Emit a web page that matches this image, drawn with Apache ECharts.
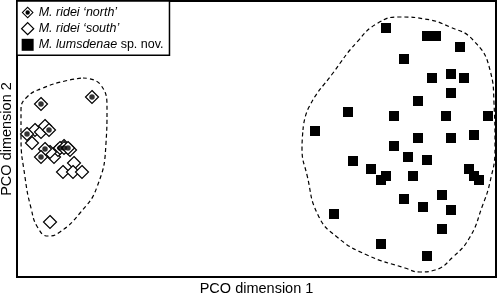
<!DOCTYPE html>
<html><head><meta charset="utf-8">
<script src="https://cdn.jsdelivr.net/npm/echarts@6/dist/echarts.min.js"></script>
<style>html,body{margin:0;padding:0;background:#fff}#c{width:500px;height:298px}</style>
</head><body><div id="c"></div>
<script>
// Series names
var seriesNames = ["M. ridei \u2018north\u2019", "M. ridei \u2018south\u2019", "M. lumsdenae sp. nov."];
var axisTitles = ["PCO dimension 1", "PCO dimension 2"];

// PCO scores (arbitrary units)
var northPts = [[24,173],[75,180],[10,143],[32,147],[28,128],[24,120],[43,129],[47,129],[51,129]];
var southPts = [[18,147],[24,145],[28,151],[15,134],[37,120],[41,127],[47,131],[53,127],[33,125],[57,114],[46,105],[56,105],[65,105],[33,55]];
var lumsPts = [[369,249],[410,241],[419,241],[443,230],[387,218],[415,199],[434,203],[447,199],[434,184],[401,176],
  [331,165],[377,161],[429,161],[471,161],[298,146],[401,139],[434,139],[457,142],[377,131],[391,120],[410,117],
  [336,116],[354,108],[369,101],[364,97],[396,101],[452,108],[457,101],[462,97],[387,78],[406,70],[425,82],
  [434,67],[317,63],[425,48],[364,33],[410,21]];

// Hull outlines drawn around each group
var hullRidei = [[66,199],[83,193],[90,167],[89,134],[80,90],[63,64],[43,45],[31,41],[21,49],[14,69],[8,100],[4,140],[4,167],[10,180],[26,189],[48,196],[66,199]];
var hullLums = [[286,147],[292,170],[316,204],[340,235],[361,254],[383,260],[408,258],[433,250],[456,237],[473,207],[477,174],[478,129],[473,95],[465,70],[453,40],[436,20],[418,7],[403,5],[388,9],[350,22],[320,40],[301,62],[290,102],[285,129],[286,147]];

var FONT = "Liberation Sans, Arial, Helvetica, sans-serif";
var northIcon = 'path://M10,0 L20,10 L10,20 L0,10 Z M10,2.4 L2.4,10 L10,17.6 L17.6,10 Z M10,6.3 A3.7,3.7 0 0 1 10,13.7 A3.7,3.7 0 0 1 10,6.3 Z';

var chart = echarts.init(document.getElementById('c'), null, {renderer: 'canvas'});
chart.setOption({
  animation: false,
  backgroundColor: '#fff',
  grid: {left: 17, top: 1, right: 4, bottom: 21, containLabel: false, outerBoundsMode: 'none',
    show: true, borderColor: '#000', borderWidth: 2, backgroundColor: 'transparent'},
  xAxis: {type: 'value', min: 0, max: 479, axisLine: {show: false}, axisTick: {show: false}, axisLabel: {show: false}, splitLine: {show: false},
    name: axisTitles[0], nameLocation: 'middle', nameGap: 4, nameTextStyle: {fontFamily: FONT, fontSize: 14.5, color: '#000', verticalAlign: 'top'}},
  yAxis: {type: 'value', min: 0, max: 276, axisLine: {show: false}, axisTick: {show: false}, axisLabel: {show: false}, splitLine: {show: false},
    name: axisTitles[1], nameLocation: 'middle', nameGap: 3, nameTextStyle: {fontFamily: FONT, fontSize: 14.5, color: '#000'}},
  legend: {
    orient: 'vertical', left: 17, top: 1, padding: [5, 6, 4, 4], itemGap: 3,
    itemWidth: 12, itemHeight: 12,
    borderColor: '#000', borderWidth: 1.5, backgroundColor: '#fff',
    textStyle: {fontFamily: FONT, fontSize: 12.5, color: '#000',
      rich: {i: {fontFamily: FONT, fontSize: 12.5, fontStyle: 'italic', color: '#000'}, n: {fontFamily: FONT, fontSize: 12.5, color: '#000'}}},
    formatter: function (name) {
      if (name === seriesNames[2]) return '{i|M. lumsdenae}{n| sp. nov.}';
      return '{i|' + name + '}';
    },
    data: [
      {name: seriesNames[0], icon: northIcon, itemStyle: {color: '#000', borderWidth: 0}},
      {name: seriesNames[1], icon: 'diamond', itemStyle: {color: '#fff', borderColor: '#000', borderWidth: 1.3}},
      {name: seriesNames[2], icon: 'rect', itemStyle: {color: '#000', borderWidth: 0}}
    ]
  },
  series: [
    {type: 'line', data: hullRidei, smooth: 0.5, showSymbol: false, silent: true, lineStyle: {color: '#000', width: 1.2, type: [4, 3]}, z: 1},
    {type: 'line', data: hullLums, smooth: 0.5, showSymbol: false, silent: true, lineStyle: {color: '#000', width: 1.2, type: [4, 3]}, z: 1},
    {name: seriesNames[1], type: 'scatter', data: southPts, symbol: 'diamond', symbolSize: 13,
      itemStyle: {color: '#fff', borderColor: '#000', borderWidth: 1.2, opacity: 1}, z: 2},
    {name: seriesNames[0], type: 'scatter', data: northPts, symbol: 'diamond', symbolSize: 13,
      itemStyle: {color: '#fff', borderColor: '#000', borderWidth: 1.2, opacity: 1}, z: 3},
    {name: 'northDots', type: 'scatter', data: northPts, symbol: 'circle', symbolSize: 5.5,
      itemStyle: {color: '#000'}, z: 4},
    {name: seriesNames[2], type: 'scatter', data: lumsPts, symbol: 'rect', symbolSize: 10,
      itemStyle: {color: '#000', opacity: 1}, z: 2}
  ]
});
</script></body></html>
